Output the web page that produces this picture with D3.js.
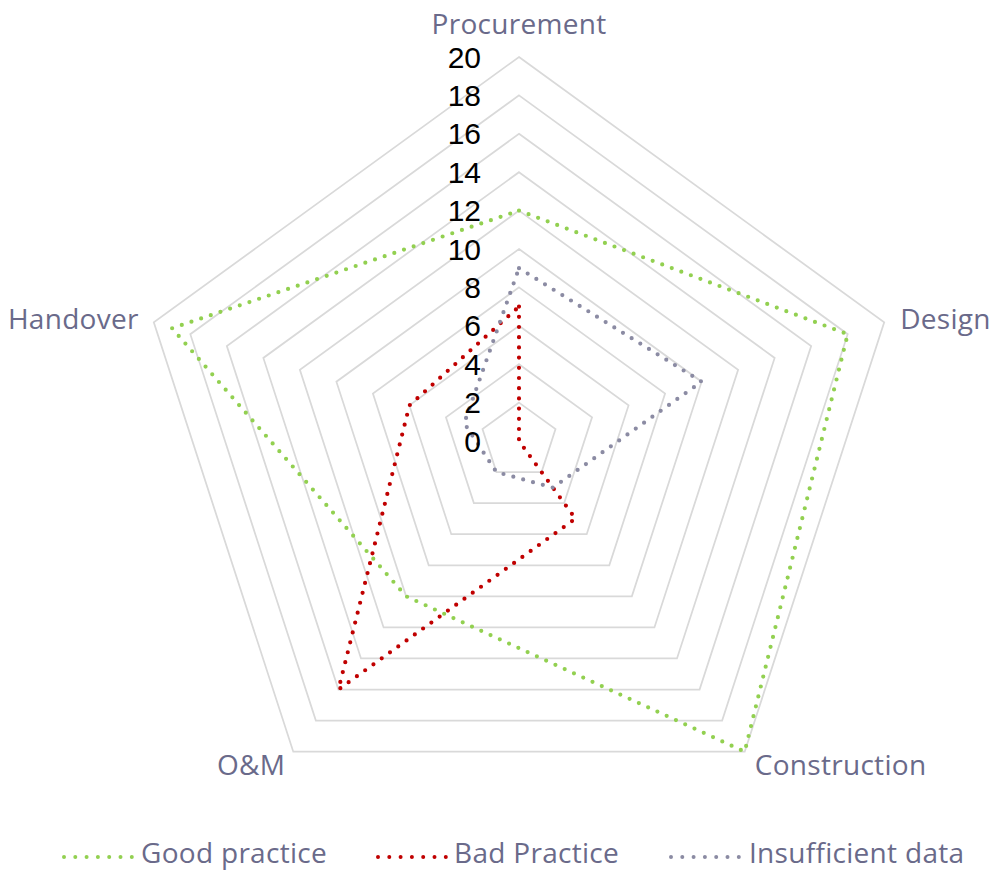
<!DOCTYPE html>
<html>
<head>
<meta charset="utf-8">
<script src="https://cdn.jsdelivr.net/npm/d3@7"></script>
<style>
  html, body { margin: 0; padding: 0; background: #fff; }
  svg { display: block; }
</style>
</head>
<body>
<svg id="chart" width="994" height="871"></svg>
<script>
// Categories (axes, clockwise from the top)
const categories = ["Procurement", "Design", "Construction", "O&M", "Handover"];

// Series values per category
const goodPractice = [12, 18, 20, 10, 19];
const badPractice = [7, 0, 5, 16, 6];
const insufficientData = [9, 10, 3, 2, 3];

// Radial tick labels
const ticks = [0, 2, 4, 6, 8, 10, 12, 14, 16, 18, 20];

const seriesNames = ["Good practice", "Bad Practice", "Insufficient data"];
const seriesValues = [goodPractice, badPractice, insufficientData];
const seriesColors = ["#92d050", "#c00000", "#8b8ba3"];

const width = 994, height = 871;
const cx = 519, cy = 441, R = 384;
const labelColor = "#6a6a8a";
const font = "'Open Sans', 'Liberation Sans', sans-serif";

const svg = d3.select("#chart");

const r = d3.scaleLinear().domain([0, 20]).range([0, R]);
const angle = d3.scalePoint().domain(categories).range([0, 2 * Math.PI * (categories.length - 1) / categories.length]);

const toXY = (cat, v) => {
  const a = angle(cat);
  return [cx + r(v) * Math.sin(a), cy - r(v) * Math.cos(a)];
};

// Grid rings
const ringLine = d3.line();
svg.append("g")
  .selectAll("path")
  .data(ticks.filter(t => t > 0))
  .join("path")
  .attr("d", t => ringLine(categories.map(c => toXY(c, t))) + "Z")
  .attr("fill", "none")
  .attr("stroke", "#d9d9d9")
  .attr("stroke-width", 1.75);

// Series
const seriesLine = d3.line().x(d => d[0]).y(d => d[1]);
svg.append("g")
  .selectAll("path")
  .data(seriesValues.map((vals, i) => ({ vals, color: seriesColors[i] })))
  .join("path")
  .attr("d", s => seriesLine(categories.map((c, j) => toXY(c, s.vals[j]))) + "Z")
  .attr("fill", "none")
  .attr("stroke", s => s.color)
  .attr("stroke-width", 4.2)
  .attr("stroke-linecap", "round")
  .attr("stroke-dasharray", "0 10.2");

// Tick labels
svg.append("g")
  .selectAll("text")
  .data(ticks)
  .join("text")
  .attr("x", cx - 38)
  .attr("y", t => cy - r(t))
  .attr("text-anchor", "end")
  .attr("dominant-baseline", "central")
  .attr("font-family", "'Liberation Sans', Arial, sans-serif")
  .attr("font-size", 30)
  .attr("fill", "#000")
  .text(d => d);

// Category labels
svg.append("g")
  .selectAll("text")
  .data(categories)
  .join("text")
  .each(function (c) {
    const a = angle(c);
    const s = Math.sin(a), co = Math.cos(a);
    const [x, y] = toXY(c, 20);
    const t = d3.select(this);
    if (Math.abs(s) < 0.01) {
      t.attr("x", x).attr("y", y - 34).attr("text-anchor", "middle");
    } else if (co > 0) {
      t.attr("x", x + (s > 0 ? 16 : -15)).attr("y", y - 4)
        .attr("text-anchor", s > 0 ? "start" : "end");
    } else {
      t.attr("x", x + (s > 0 ? 10 : -8)).attr("y", y + 12)
        .attr("text-anchor", s > 0 ? "start" : "end");
    }
  })
  .attr("dominant-baseline", "central")
  .attr("font-family", font)
  .attr("font-size", 28)
  .attr("letter-spacing", 0.3)
  .attr("fill", labelColor)
  .text(d => d);

// Legend
const legendItems = [
  { name: seriesNames[0], color: seriesColors[0], x0: 64, x1: 136 },
  { name: seriesNames[1], color: seriesColors[1], x0: 378, x1: 449 },
  { name: seriesNames[2], color: seriesColors[2], x0: 671, x1: 744 }
];
const ly = 857;
const lg = svg.append("g");
lg.selectAll("line")
  .data(legendItems)
  .join("line")
  .attr("x1", d => d.x0).attr("x2", d => d.x1)
  .attr("y1", ly).attr("y2", ly)
  .attr("stroke", d => d.color)
  .attr("stroke-width", 4)
  .attr("stroke-linecap", "round")
  .attr("stroke-dasharray", "0 11.3");
lg.selectAll("text")
  .data(legendItems)
  .join("text")
  .attr("x", d => d.x1 + 5)
  .attr("y", 863)
  .attr("font-family", font)
  .attr("font-size", 28)
  .attr("letter-spacing", 0.3)
  .attr("fill", labelColor)
  .text(d => d.name);
</script>
</body>
</html>
